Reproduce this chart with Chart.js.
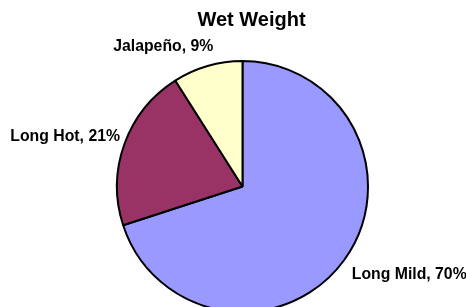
<!DOCTYPE html>
<html>
<head>
<meta charset="utf-8">
<script src="https://cdn.jsdelivr.net/npm/chart.js@4/dist/chart.umd.min.js"></script>
<style>
html,body{margin:0;padding:0;background:#fff;}
#wrap{width:466px;height:307px;position:relative;}
</style>
</head>
<body>
<div id="wrap"><canvas id="c" width="466" height="307"></canvas></div>
<script>
// ---- data ----
const chartTitle = "Wet Weight";
const categories = ["Long Mild", "Long Hot", "Jalapeño"];
const values = [70, 21, 9];

// ---- style ----
const sliceColors = ["#9999FF", "#993366", "#FFFFCC"];
const labelFont = "bold 15.8px 'Liberation Sans', Arial, sans-serif";
const titleFont = "bold 20px 'Liberation Sans', Arial, sans-serif";
// label placement relative to the slice's mid-angle point on the rim
const labelPlacement = [
  {align: "left",  dx: 7.7,  dy: 18.7},
  {align: "right", dx: -4.4, dy: -3.3},
  {align: "right", dx: 5.8,  dy: -15.3}
];

const total = values.reduce((a, b) => a + b, 0);

const labelPlugin = {
  id: "pieLabels",
  afterDatasetsDraw(chart) {
    const ctx = chart.ctx;
    const meta = chart.getDatasetMeta(0);
    ctx.save();
    ctx.fillStyle = "#000";
    ctx.font = labelFont;
    ctx.textBaseline = "alphabetic";
    meta.data.forEach((arc, i) => {
      const p = arc.getProps(["x", "y", "startAngle", "endAngle", "outerRadius"], true);
      const mid = (p.startAngle + p.endAngle) / 2;
      const ax = p.x + Math.cos(mid) * p.outerRadius;
      const ay = p.y + Math.sin(mid) * p.outerRadius;
      const pl = labelPlacement[i];
      const pct = Math.round(values[i] / total * 100);
      ctx.textAlign = pl.align;
      ctx.fillText(categories[i] + ", " + pct + "%", ax + pl.dx, ay + pl.dy);
    });
    // title
    const c = meta.data[0];
    ctx.font = titleFont;
    ctx.textAlign = "center";
    ctx.fillText(chartTitle, c.x + 9, c.y - c.outerRadius - 35.3);
    ctx.restore();
  }
};

new Chart(document.getElementById("c"), {
  type: "pie",
  data: {
    labels: categories,
    datasets: [{
      data: values,
      backgroundColor: sliceColors,
      borderColor: "#000",
      borderWidth: 2,
      radius: 125.5,
      clip: false
    }]
  },
  options: {
    responsive: false,
    animation: false,
    layout: {padding: {left: 19, right: 0, top: 66, bottom: 0}},
    plugins: {
      legend: {display: false},
      title: {display: false},
      tooltip: {enabled: false}
    }
  },
  plugins: [labelPlugin]
});
</script>
</body>
</html>
